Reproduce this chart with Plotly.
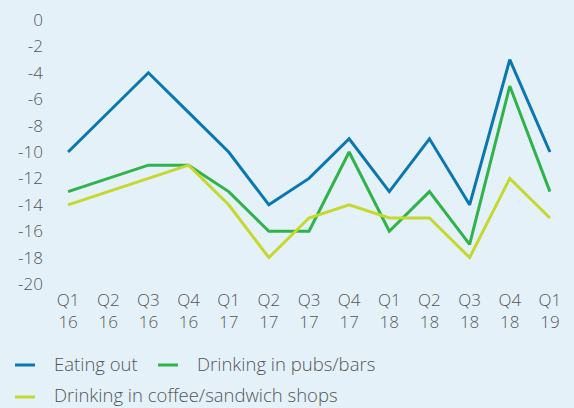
import plotly.graph_objects as go

quarters = ["Q1<br>16", "Q2<br>16", "Q3<br>16", "Q4<br>16",
            "Q1<br>17", "Q2<br>17", "Q3<br>17", "Q4<br>17",
            "Q1<br>18", "Q2<br>18", "Q3<br>18", "Q4<br>18",
            "Q1<br>19"]
eating_out = [-10, -7, -4, -7, -10, -14, -12, -9, -13, -9, -14, -3, -10]
pubs_bars = [-13, -12, -11, -11, -13, -16, -16, -10, -16, -13, -17, -5, -13]
coffee_shops = [-14, -13, -12, -11, -14, -18, -15, -14, -15, -15, -18, -12, -15]
y_ticks = list(range(0, -21, -2))
y_labels = [str(v) for v in y_ticks]

BG = "#e4f1f9"
TEXT = "#555555"
FONT = dict(family="Open Sans", size=17, color=TEXT, weight=300)
LEGEND_FONT = dict(FONT, size=18.5)

# plot area in pixels (for placing the hand-drawn legend)
W, H = 574, 408
L, R, T, B = 48, 4, 20, 124
PW, PH = W - L - R, H - T - B


def px(x):
    return (x - L) / PW


def py(y):
    return (H - B - y) / PH


x = list(range(len(quarters)))
# legend entries: (label, values, colour, key x, key y, text y)
series = [
    ("Eating out", eating_out, "#0b77b0", 15, 365, 363),
    ("Drinking in pubs/bars", pubs_bars, "#2fb34a", 158, 365, 363),
    ("Drinking in coffee/sandwich shops", coffee_shops, "#c5d82e", 15, 397, 394.5),
]

fig = go.Figure()
for name, vals, color, lx, ly, ty in series:
    fig.add_trace(go.Scatter(x=x, y=vals, name=name, mode="lines",
                             line=dict(color=color, width=3), showlegend=False))
    fig.add_shape(type="line", xref="paper", yref="paper",
                  x0=px(lx), x1=px(lx + 20), y0=py(ly), y1=py(ly),
                  line=dict(color=color, width=3))
    fig.add_annotation(text=name, xref="paper", yref="paper",
                       x=px(lx + 37), y=py(ty), xanchor="left", yanchor="middle",
                       showarrow=False, font=LEGEND_FONT)

fig.update_layout(
    width=W, height=H,
    margin=dict(l=L, r=R, t=T, b=B),
    paper_bgcolor=BG, plot_bgcolor=BG,
    font=FONT,
    xaxis=dict(range=[-0.5, len(quarters) - 0.5], tickmode="array",
               tickvals=x, ticktext=quarters, showgrid=False, zeroline=False,
               showline=False, ticks="", automargin=False, ticklabelstandoff=4),
    yaxis=dict(range=[-20, 0], tickmode="array", tickvals=y_ticks,
               ticktext=y_labels, showgrid=False, zeroline=False,
               showline=False, ticks="", automargin=False, ticklabelstandoff=4),
)

fig.write_html("out.html")
